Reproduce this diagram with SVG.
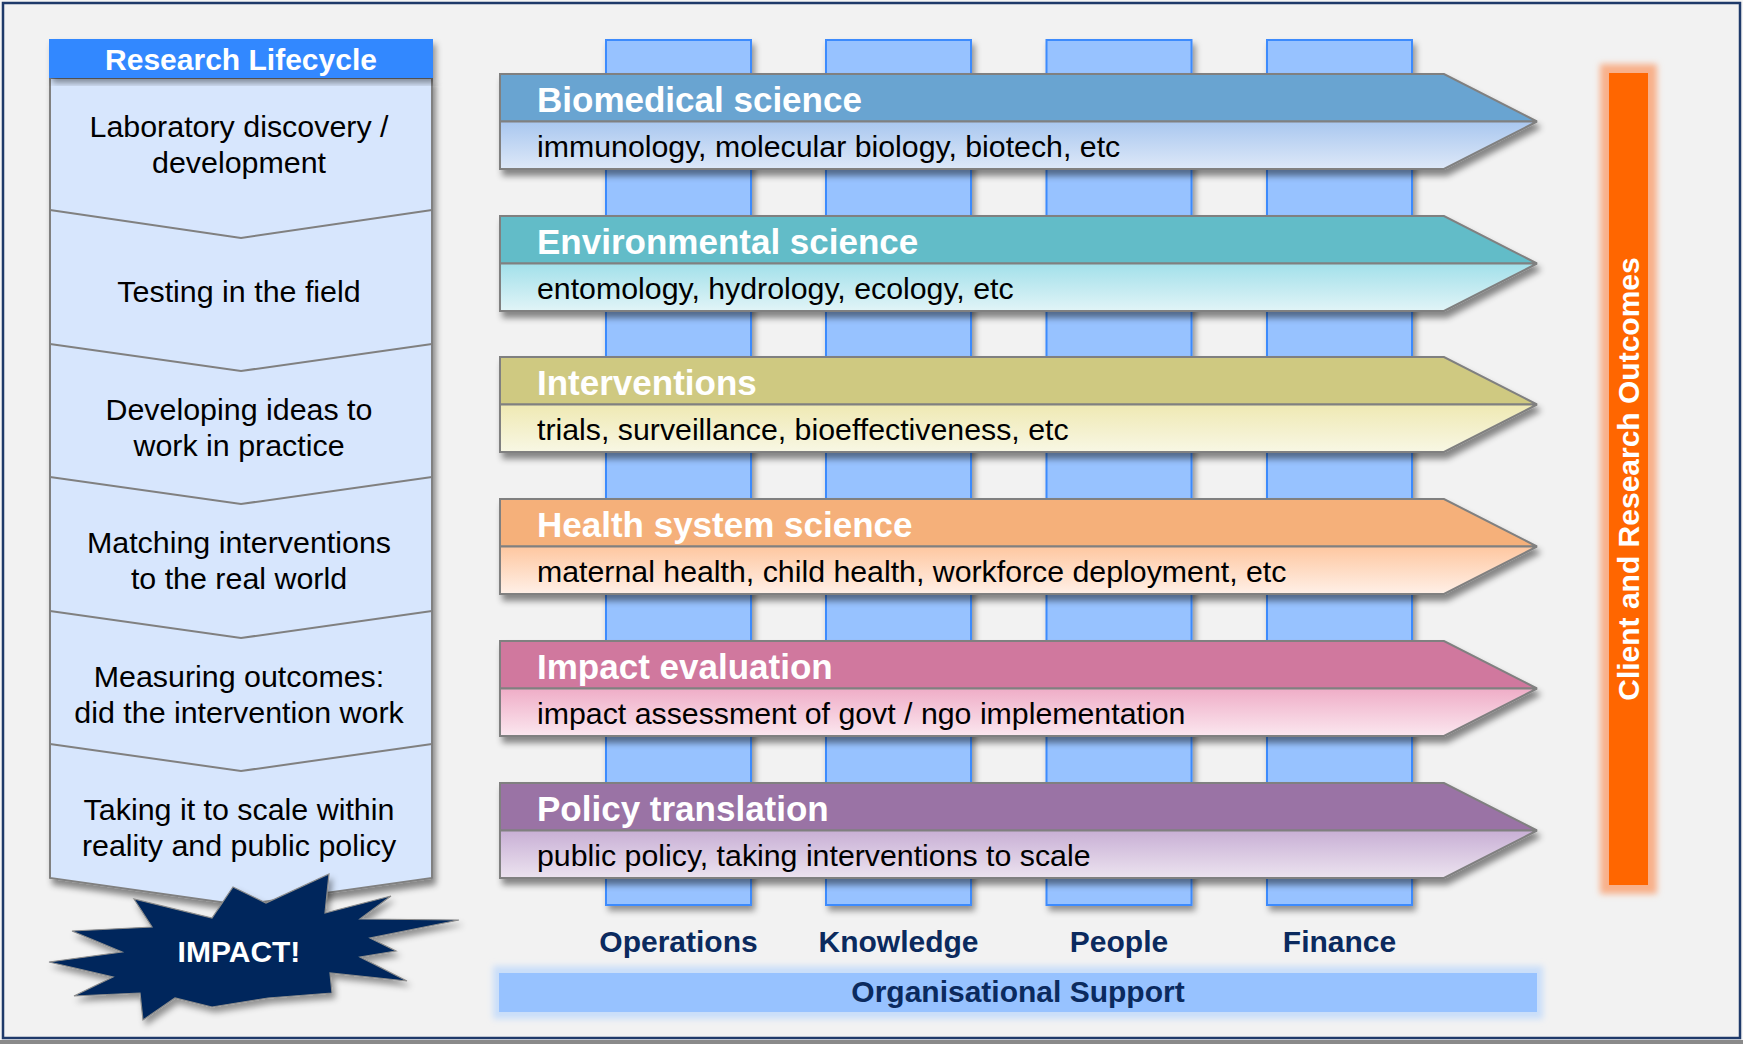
<svg xmlns="http://www.w3.org/2000/svg" width="1743" height="1044" viewBox="0 0 1743 1044">
<style>
.lc{font-family:"Liberation Sans",Arial,sans-serif;font-size:30.4px;fill:#000;text-anchor:middle}
.hd{font-family:"Liberation Sans",Arial,sans-serif;font-size:35px;font-weight:bold;fill:#fff}
.sb{font-family:"Liberation Sans",Arial,sans-serif;font-size:30.3px;fill:#000}
.nv{font-family:"Liberation Sans",Arial,sans-serif;font-size:30px;font-weight:bold;fill:#0b2a5e;text-anchor:middle}
.wt{font-family:"Liberation Sans",Arial,sans-serif;font-size:30px;font-weight:bold;fill:#fff;text-anchor:middle}
.bar{fill:#97c2ff;stroke:#3d8bfd;stroke-width:2}
.arr{stroke:#808080;stroke-width:2;stroke-linejoin:miter}
.div{fill:none;stroke:#808080;stroke-width:2}
</style>
<defs>
<filter id="sh" x="-5%" y="-10%" width="115%" height="130%">
<feDropShadow dx="3" dy="6" stdDeviation="3" flood-color="#000" flood-opacity="0.45"/>
</filter>
<filter id="shs" x="-10%" y="-10%" width="130%" height="130%">
<feDropShadow dx="3" dy="5" stdDeviation="3" flood-color="#000" flood-opacity="0.4"/>
</filter>
<filter id="bl" x="-20%" y="-20%" width="140%" height="140%">
<feGaussianBlur stdDeviation="3"/>
</filter>
<linearGradient id="g1" x1="0" y1="0" x2="0" y2="1"><stop offset="0" stop-color="#a9c7ef"/><stop offset="1" stop-color="#dde8f8"/></linearGradient>
<linearGradient id="g2" x1="0" y1="0" x2="0" y2="1"><stop offset="0" stop-color="#a2e0ea"/><stop offset="1" stop-color="#e1f4f7"/></linearGradient>
<linearGradient id="g3" x1="0" y1="0" x2="0" y2="1"><stop offset="0" stop-color="#efe9b3"/><stop offset="1" stop-color="#f8f7e4"/></linearGradient>
<linearGradient id="g4" x1="0" y1="0" x2="0" y2="1"><stop offset="0" stop-color="#fec7a0"/><stop offset="1" stop-color="#fff0e7"/></linearGradient>
<linearGradient id="g5" x1="0" y1="0" x2="0" y2="1"><stop offset="0" stop-color="#efadc7"/><stop offset="1" stop-color="#fbe7ef"/></linearGradient>
<linearGradient id="g6" x1="0" y1="0" x2="0" y2="1"><stop offset="0" stop-color="#c8afd5"/><stop offset="1" stop-color="#ece3ef"/></linearGradient>
</defs>

<rect x="0" y="0" width="1743" height="1044" fill="#8a8a8a"/>
<rect x="0" y="0" width="1743" height="1040" fill="#f5f5f5"/>
<rect x="3" y="3" width="1737" height="1035" fill="#f2f2f2" stroke="#1f3a6a" stroke-width="2.5"/>

<!-- Research lifecycle column -->
<g id="lifecycle">
<polygon points="50,78 432,78 432,878 241,905 50,878" fill="#d7e6fd" stroke="#808080" stroke-width="2" filter="url(#sh)"/>
<polyline class="div" points="50,210 241,238 432,210"/>
<polyline class="div" points="50,344 241,371 432,344"/>
<polyline class="div" points="50,477 241,504 432,477"/>
<polyline class="div" points="50,611 241,638 432,611"/>
<polyline class="div" points="50,744 241,771 432,744"/>
</g>
<g id="lifecycle-header">
<rect x="49" y="39" width="384" height="39" fill="#3388ff" filter="url(#shs)"/>
<text class="wt" x="241" y="70">Research Lifecycle</text>
</g>
<g id="step1"><text class="lc" x="239" y="137">Laboratory discovery /</text><text class="lc" x="239" y="173">development</text></g>
<g id="step2"><text class="lc" x="239" y="302">Testing in the field</text></g>
<g id="step3"><text class="lc" x="239" y="420">Developing ideas to</text><text class="lc" x="239" y="456">work in practice</text></g>
<g id="step4"><text class="lc" x="239" y="553">Matching interventions</text><text class="lc" x="239" y="589">to the real world</text></g>
<g id="step5"><text class="lc" x="239" y="687">Measuring outcomes:</text><text class="lc" x="239" y="723">did the intervention work</text></g>
<g id="step6"><text class="lc" x="239" y="820">Taking it to scale within</text><text class="lc" x="239" y="856">reality and public policy</text></g>

<g id="impact">
<polygon points="49,962 122,952 72,931 152,927 134,899 212,918 233,887 266,903 329,874 325,913 391,896 360,919 459,920 370,938 396,951 360,957 407,981 330,973 332,993 268,998 212,1007 175,998 143,1020 140,993 74,996 113,977" fill="#01285c" stroke="#8c8c8c" stroke-width="1.2" filter="url(#shs)"/>
<text class="wt" x="239" y="962">IMPACT!</text>
</g>

<!-- support columns -->
<g id="col-operations"><rect class="bar" x="606" y="40" width="145" height="865" filter="url(#shs)"/><text class="nv" x="678.5" y="952">Operations</text></g>
<g id="col-knowledge"><rect class="bar" x="826" y="40" width="145" height="865" filter="url(#shs)"/><text class="nv" x="898.5" y="952">Knowledge</text></g>
<g id="col-people"><rect class="bar" x="1046.5" y="40" width="145" height="865" filter="url(#shs)"/><text class="nv" x="1119" y="952">People</text></g>
<g id="col-finance"><rect class="bar" x="1267" y="40" width="145" height="865" filter="url(#shs)"/><text class="nv" x="1339.5" y="952">Finance</text></g>

<!-- arrows -->
<g id="biomedical">
<g filter="url(#sh)">
<polygon class="arr" points="500,74 1444,74 1537,121.5 500,121.5" fill="#69a4d1"/>
<polygon class="arr" points="500,121.5 1537,121.5 1444,169 500,169" fill="url(#g1)"/>
</g>
<text class="hd" x="537" y="112">Biomedical science</text>
<text class="sb" x="537" y="157">immunology, molecular biology, biotech, etc</text>
</g>
<g id="environmental">
<g filter="url(#sh)">
<polygon class="arr" points="500,216 1444,216 1537,263.5 500,263.5" fill="#62bcc8"/>
<polygon class="arr" points="500,263.5 1537,263.5 1444,311 500,311" fill="url(#g2)"/>
</g>
<text class="hd" x="537" y="254">Environmental science</text>
<text class="sb" x="537" y="299">entomology, hydrology, ecology, etc</text>
</g>
<g id="interventions">
<g filter="url(#sh)">
<polygon class="arr" points="500,357 1444,357 1537,404.5 500,404.5" fill="#cfc981"/>
<polygon class="arr" points="500,404.5 1537,404.5 1444,452 500,452" fill="url(#g3)"/>
</g>
<text class="hd" x="537" y="395">Interventions</text>
<text class="sb" x="537" y="440">trials, surveillance, bioeffectiveness, etc</text>
</g>
<g id="health">
<g filter="url(#sh)">
<polygon class="arr" points="500,499 1444,499 1537,546.5 500,546.5" fill="#f5b07a"/>
<polygon class="arr" points="500,546.5 1537,546.5 1444,594 500,594" fill="url(#g4)"/>
</g>
<text class="hd" x="537" y="537">Health system science</text>
<text class="sb" x="537" y="582">maternal health, child health, workforce deployment, etc</text>
</g>
<g id="impact-eval">
<g filter="url(#sh)">
<polygon class="arr" points="500,641 1444,641 1537,688.5 500,688.5" fill="#d0789e"/>
<polygon class="arr" points="500,688.5 1537,688.5 1444,736 500,736" fill="url(#g5)"/>
</g>
<text class="hd" x="537" y="679">Impact evaluation</text>
<text class="sb" x="537" y="724">impact assessment of govt / ngo implementation</text>
</g>
<g id="policy">
<g filter="url(#sh)">
<polygon class="arr" points="500,783 1444,783 1537,830.5 500,830.5" fill="#9a73a5"/>
<polygon class="arr" points="500,830.5 1537,830.5 1444,878 500,878" fill="url(#g6)"/>
</g>
<text class="hd" x="537" y="821">Policy translation</text>
<text class="sb" x="537" y="866">public policy, taking interventions to scale</text>
</g>

<g id="org-support">
<rect x="493" y="966" width="1050" height="53" fill="#c9def9" filter="url(#bl)"/>
<rect x="499" y="973" width="1038" height="39" fill="#97c2ff"/>
<text class="nv" x="1018" y="1002">Organisational Support</text>
</g>

<g id="outcomes">
<rect x="1600" y="64" width="57" height="830" fill="#f8b08a" filter="url(#bl)"/>
<rect x="1609" y="73" width="39" height="812" fill="#ff6600"/>
<text class="wt" transform="translate(1639,479) rotate(-90)" x="0" y="0">Client and Research Outcomes</text>
</g>
<g id="connectors"/>
</svg>
